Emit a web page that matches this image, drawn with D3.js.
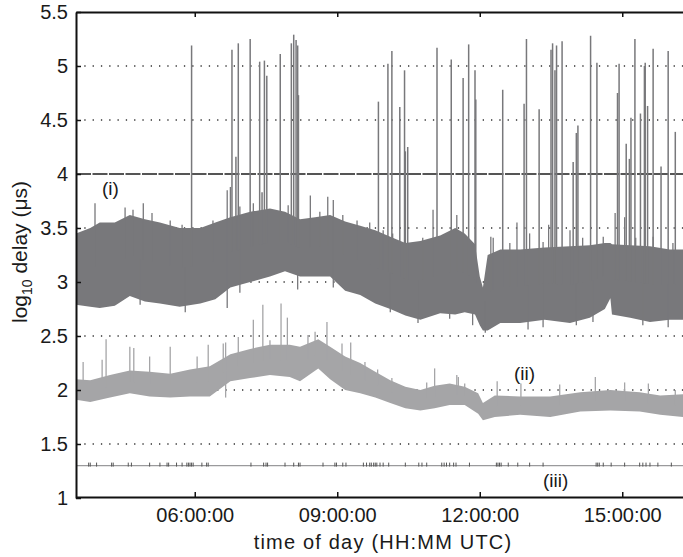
<!DOCTYPE html>
<html>
<head>
<meta charset="utf-8">
<script src="https://cdn.jsdelivr.net/npm/d3@7"></script>
<style>
  body { margin: 0; background: #fff; }
  text { font-family: "Liberation Sans", Arial, sans-serif; fill: #1a1a1a; }
</style>
</head>
<body>
<div class="chart"></div>
<script>
// tick values
var yTicks = [1, 1.5, 2, 2.5, 3, 3.5, 4, 4.5, 5, 5.5];
var xTicks = ["06:00", "09:00", "12:00", "15:00"];

// series (i): envelope of the noisy band, log10 delay
var timesI = ["03:30","03:48","04:00","04:19","04:38","04:57","05:16","05:41","06:07","06:26",
  "06:45","07:10","07:35","07:54","08:13","08:32","08:51","09:10","09:29","09:48",
  "10:07","10:26","10:45","11:10","11:29","11:41","11:54","12:00","12:04","12:10",
  "12:26","12:51","13:22","13:54","14:19","14:38","14:45","14:47","15:10","15:35",
  "16:00","16:17"];
var lowI = [2.79,2.77,2.76,2.78,2.87,2.82,2.80,2.77,2.80,2.84,
  2.95,3.00,3.05,3.10,3.05,3.05,3.05,2.92,2.88,2.80,
  2.75,2.69,2.65,2.71,2.70,2.72,2.70,2.60,2.55,2.55,
  2.62,2.62,2.65,2.62,2.67,2.75,2.85,2.70,2.67,2.63,
  2.65,2.65];
var highI = [3.45,3.50,3.55,3.55,3.62,3.58,3.55,3.50,3.50,3.55,
  3.60,3.65,3.68,3.65,3.58,3.60,3.62,3.56,3.52,3.48,
  3.42,3.36,3.38,3.43,3.50,3.45,3.35,3.05,2.95,3.25,
  3.30,3.30,3.32,3.33,3.34,3.36,3.36,3.35,3.34,3.33,
  3.30,3.30];

// series (i): large outliers
var spikeTimesI = ["05:56","06:47","06:52","06:55","07:10","07:22","07:25","07:28","07:31","07:48",
  "08:02","08:05","08:08","08:10","08:11","09:52","10:04","10:09","10:19","10:25",
  "10:26","10:29","11:06","11:24","11:39","11:46","11:54","11:55","12:29","12:56",
  "12:59","13:15","13:30","13:32","13:35","13:37","13:44","13:58","14:02","14:04",
  "14:20","14:28","14:54","14:56","15:05","15:09","15:11","15:16","15:23","15:28",
  "15:29","15:32","15:39","15:49","15:58","16:07"];
var spikeTopsI = [5.19,5.15,4.16,5.21,5.25,5.04,3.83,5.05,4.91,5.11,
  5.21,5.29,5.24,5.19,4.73,4.67,5.02,5.14,4.62,4.96,
  4.21,4.25,5.17,5.06,4.89,5.20,4.96,4.69,4.78,4.65,
  5.25,4.60,5.15,5.21,4.96,5.19,5.23,4.11,4.38,4.45,
  5.28,5.03,4.75,5.02,4.28,4.14,4.52,5.25,4.56,5.00,
  5.03,4.63,5.16,4.07,5.14,4.39];

// series (i): smaller excursions above and below the band
var upTimesI = ["03:54","04:32","04:42","04:55","05:06","05:29","05:44","06:23","06:41","06:45",
  "06:57","07:14","07:58","08:26","08:38","08:48","08:55","09:07","09:25","09:41",
  "09:58","10:10","10:48","11:01","11:31","12:14","12:17","12:38","12:47","13:03",
  "13:20","13:27","13:54","14:10","14:36","14:51","15:03","15:17","15:39","16:04"];
var upTopsI = [3.73,3.69,3.67,3.73,3.64,3.57,3.53,3.57,3.85,3.88,
  3.70,3.73,3.71,3.80,3.65,3.79,3.76,3.62,3.57,3.55,
  3.48,3.45,3.41,3.67,3.62,3.42,3.41,3.36,3.55,3.45,
  3.37,3.53,3.48,3.41,3.42,3.64,3.60,3.41,3.42,3.36];
var downTimesI = ["04:51","05:48","06:41","06:57","08:10","08:55","10:07","10:42","11:22","11:51",
  "12:07","13:01","13:20","14:02","14:23","15:26","15:58"];
var downLowsI = [2.79,2.72,2.76,2.90,2.93,2.95,2.72,2.62,2.66,2.60,
  2.53,2.56,2.58,2.60,2.63,2.60,2.58];

// series (ii): envelope
var timesII = ["03:30","03:48","04:13","04:38","05:03","05:29","05:54","06:19","06:45","07:10",
  "07:35","08:00","08:13","08:36","08:51","09:10","09:29","09:48","10:07","10:26",
  "10:45","11:03","11:22","11:41","11:58","12:04","12:19","12:51","13:29","14:07",
  "14:45","15:22","15:48","16:17"];
var lowII = [1.91,1.89,1.93,1.97,1.94,1.93,1.94,1.94,2.08,2.11,
  2.14,2.12,2.08,2.20,2.10,2.00,1.97,1.93,1.88,1.83,
  1.81,1.83,1.86,1.86,1.78,1.72,1.75,1.77,1.75,1.80,
  1.81,1.80,1.77,1.75];
var highII = [2.10,2.09,2.14,2.18,2.17,2.15,2.19,2.22,2.33,2.38,
  2.42,2.42,2.40,2.47,2.40,2.31,2.25,2.17,2.09,2.03,
  2.00,2.04,2.06,2.03,1.97,1.88,1.95,1.94,1.94,1.98,
  2.00,1.98,1.95,1.96];
var spikeTimesII = ["03:39","04:03","04:08","04:38","04:43","05:03","05:29","06:03","06:17","06:36",
  "06:39","06:55","07:14","07:26","07:35","07:49","07:57","08:23","08:32","08:47",
  "09:06","09:17","09:35","09:51","10:09","10:53","11:03","11:31","11:33","11:41",
  "12:22","12:52","13:41","14:26","15:03","15:33","16:07"];
var spikeTopsII = [2.26,2.28,2.47,2.40,2.39,2.31,2.40,2.31,2.42,2.43,
  2.44,2.49,2.65,2.79,2.46,2.80,2.67,2.51,2.54,2.63,
  2.43,2.44,2.26,2.19,2.11,2.07,2.20,2.14,2.12,2.06,
  2.08,2.06,2.05,2.12,2.07,2.06,2.00];
var downTimesII = ["06:39"];
var downLowsII = [1.93];

// series (iii): baseline level and short events on it
var levelIII = 1.3;
var eventTimesIII = ["03:46","03:48","03:56","04:15","04:17","04:36","04:40","05:03","05:16","05:25",
  "05:27","05:37","05:44","05:50","05:52","05:54","05:56","05:58","06:09","06:15",
  "06:17","07:11","07:27","07:30","07:32","07:54","08:05","08:11","08:13","08:42",
  "08:57","08:59","09:07","09:11","09:33","09:37","09:41","09:43","09:46","09:48",
  "09:50","09:54","09:58","10:05","10:26","10:43","10:47","10:53","11:12","11:15",
  "11:18","11:22","11:27","11:30","11:47","12:21","12:23","12:25","12:27","12:36",
  "12:48","13:03","13:20","14:27","14:29","14:31","14:36","14:46","15:03","15:22",
  "15:26","15:30","15:35","15:45","16:02"];

function hours(s) {
    var p = s.split(":");
    return +p[0] + (+p[1]) / 60;
}

// value of an envelope at a time, used only to anchor a spike on its band
function bandAt(times, vals, t) {
    var h = times.map(hours);
    var i = d3.bisectLeft(h, t);
    if (i <= 0) return vals[0];
    if (i >= h.length) return vals[vals.length - 1];
    var f = (t - h[i - 1]) / (h[i] - h[i - 1]);
    return vals[i - 1] + f * (vals[i] - vals[i - 1]);
}

var svgWidth = 683;
var svgHeight = 557;
var margin = { top: 12, left: 76 };
var plotBottom = 498;

var svg = d3.select(".chart")
    .append("svg")
    .attr("width", svgWidth)
    .attr("height", svgHeight);

// scales (right edge of the figure is cut by the picture)
var xScale = d3.scaleLinear().domain([3.5, 16.5]).range([margin.left, margin.left + 13 * 47.5]);
var yScale = d3.scaleLinear().domain([1, 5.5]).range([plotBottom, margin.top]);

var chart = svg.append("g");

// dotted grid
chart.selectAll(".grid")
    .data(yTicks.filter(function (d) { return d > 1 && d < 5.5 && d !== 4; }))
    .enter()
    .append("line")
    .attr("x1", margin.left)
    .attr("x2", svgWidth)
    .attr("y1", function (d) { return yScale(d); })
    .attr("y2", function (d) { return yScale(d); })
    .attr("stroke", "#333")
    .attr("stroke-width", 1.3)
    .attr("stroke-dasharray", "1.3,7");

function drawBand(times, lo, hi, color) {
    var rows = times.map(function (t, i) { return { t: hours(t), lo: lo[i], hi: hi[i] }; });
    chart.append("path")
        .datum(rows)
        .attr("fill", color)
        .attr("d", d3.area()
            .x(function (d) { return xScale(d.t); })
            .y0(function (d) { return yScale(d.lo); })
            .y1(function (d) { return yScale(d.hi); }));
}

function drawSpikes(ts, ends, times, edge, color, width) {
    chart.append("g")
        .selectAll("line")
        .data(ts)
        .enter()
        .append("line")
        .attr("x1", function (d) { return xScale(hours(d)); })
        .attr("x2", function (d) { return xScale(hours(d)); })
        .attr("y1", function (d) { return yScale(bandAt(times, edge, hours(d))); })
        .attr("y2", function (d, i) { return yScale(ends[i]); })
        .attr("stroke", color)
        .attr("stroke-width", width);
}

var midII = lowII.map(function (v, i) { return (v + highII[i]) / 2; });
var midI = lowI.map(function (v, i) { return (v + highI[i]) / 2; });

// series (ii)
drawBand(timesII, lowII, highII, "#a5a5a7");
drawSpikes(spikeTimesII, spikeTopsII, timesII, midII, "#a5a5a7", 1.3);
drawSpikes(downTimesII, downLowsII, timesII, midII, "#a5a5a7", 1.3);

// series (i)
drawBand(timesI, lowI, highI, "#78787b");
drawSpikes(upTimesI, upTopsI, timesI, midI, "#78787b", 1.3);
drawSpikes(downTimesI, downLowsI, timesI, midI, "#78787b", 1.3);

// threshold line at 4
chart.append("line")
    .attr("x1", margin.left)
    .attr("x2", svgWidth)
    .attr("y1", yScale(4))
    .attr("y2", yScale(4))
    .attr("stroke", "#1e1e1e")
    .attr("stroke-width", 1.5)
    .attr("stroke-dasharray", "15,1.5");

drawSpikes(spikeTimesI, spikeTopsI, timesI, midI, "#78787b", 1.5);

// series (iii)
chart.append("line")
    .attr("x1", margin.left)
    .attr("x2", svgWidth)
    .attr("y1", yScale(levelIII))
    .attr("y2", yScale(levelIII))
    .attr("stroke", "#9a9a9c")
    .attr("stroke-width", 1.3);

chart.selectAll(".evIII")
    .data(eventTimesIII)
    .enter()
    .append("line")
    .attr("x1", function (d) { return xScale(hours(d)); })
    .attr("x2", function (d) { return xScale(hours(d)); })
    .attr("y1", yScale(levelIII) + 1)
    .attr("y2", yScale(levelIII) - 3)
    .attr("stroke", "#555")
    .attr("stroke-width", 1);

// axes
var xAxis = d3.axisBottom(xScale)
    .tickValues(xTicks.map(hours))
    .tickFormat(function (d, i) { return xTicks[i] + ":00"; })
    .tickSizeInner(-5)
    .tickSizeOuter(0)
    .tickPadding(11);

var xAxisTop = d3.axisTop(xScale)
    .tickValues(xTicks.map(hours))
    .tickFormat("")
    .tickSizeInner(-5)
    .tickSizeOuter(0);

var yAxis = d3.axisLeft(yScale)
    .tickValues(yTicks)
    .tickFormat(function (d) { return d; })
    .tickSizeInner(-5)
    .tickSizeOuter(0)
    .tickPadding(8);

function styleAxis(g) {
    g.select(".domain").attr("stroke", "#111").attr("stroke-width", 2);
    g.selectAll(".tick line").attr("stroke", "#111").attr("stroke-width", 1.5);
    g.selectAll(".tick text")
        .attr("font-family", "Liberation Sans, Arial, sans-serif")
        .attr("font-size", 20)
        .attr("fill", "#1a1a1a");
}

svg.append("g")
    .attr("transform", `translate(0,${plotBottom - 1})`)
    .call(xAxis)
    .call(styleAxis);

svg.append("g")
    .attr("transform", `translate(0,${margin.top})`)
    .call(xAxisTop)
    .call(styleAxis);

svg.append("g")
    .attr("transform", `translate(${margin.left},0)`)
    .call(yAxis)
    .call(styleAxis);

// series labels
svg.append("text").attr("x", 102).attr("y", 195).attr("font-size", 19).text("(i)");
svg.append("text").attr("x", 514).attr("y", 380).attr("font-size", 19).text("(ii)");
svg.append("text").attr("x", 543).attr("y", 487).attr("font-size", 19).text("(iii)");

// axis titles
svg.append("text")
    .attr("x", 383)
    .attr("y", 549)
    .attr("text-anchor", "middle")
    .attr("font-size", 20)
    .attr("letter-spacing", 1.2)
    .text("time of day (HH:MM UTC)");

var yTitle = svg.append("text")
    .attr("transform", "translate(27,252) rotate(-90)")
    .attr("text-anchor", "middle")
    .attr("font-size", 21);
yTitle.append("tspan").text("log");
yTitle.append("tspan").attr("font-size", 14).attr("dy", 5).text("10");
yTitle.append("tspan").attr("dy", -5).text(" delay (\u03bcs)");
</script>
</body>
</html>
